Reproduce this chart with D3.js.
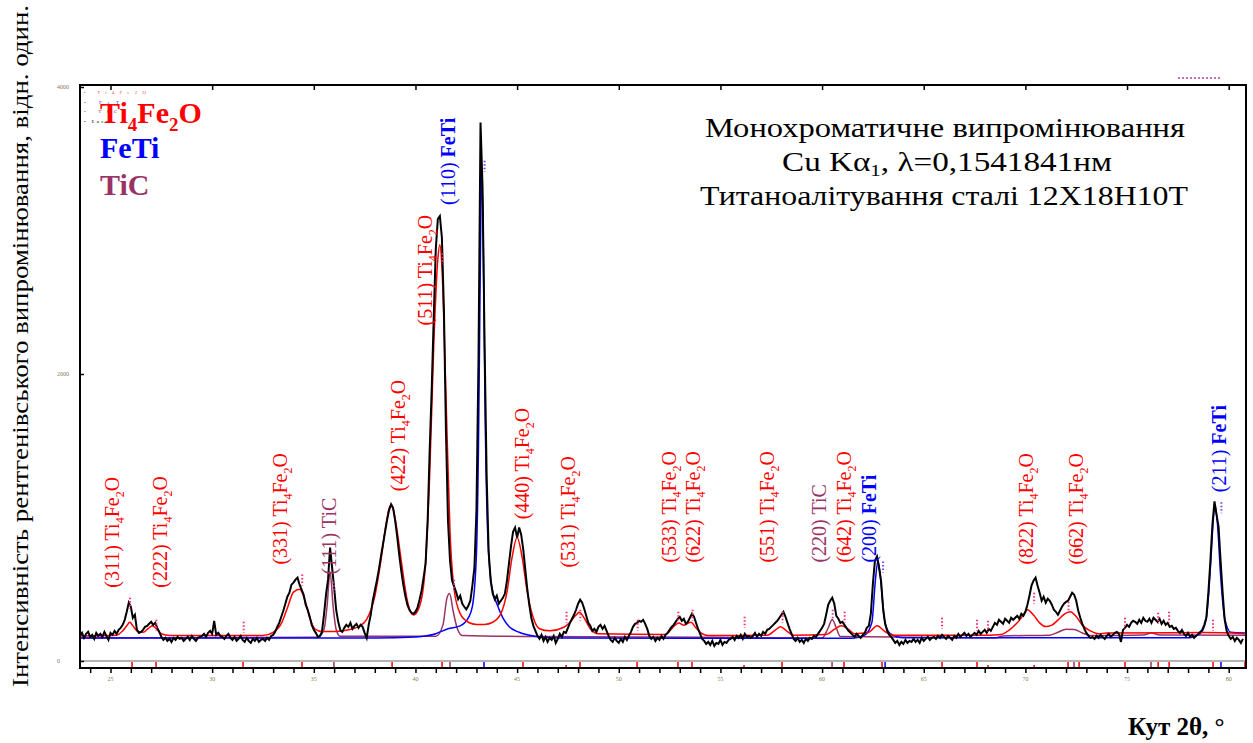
<!DOCTYPE html>
<html>
<head>
<meta charset="utf-8">
<script src="https://cdn.jsdelivr.net/npm/d3@7"></script>
<style>
body { margin: 0; background: #fff; }
svg { display: block; }
text { font-family: "Liberation Serif", "Times New Roman", serif; white-space: pre; }
</style>
</head>
<body>
<script>
// scan parameters of the measured pattern (2theta, deg)
var scanStart = 23.5;
var scanStep = 0.1;

// measured intensity, one value per scan step (23.5 .. 80.7)
var measured = [
    175,196,161,189,203,168,182,154,196,175,
    189,168,203,175,147,196,182,210,189,217,
    231,252,287,343,406,378,301,322,217,196,
    203,217,238,245,259,273,252,266,231,203,
    168,147,161,140,154,133,161,147,168,154,
    161,140,154,168,147,175,154,140,161,168,
    175,189,168,196,210,189,280,182,196,175,
    168,154,175,189,161,147,168,140,154,175,
    147,133,161,140,126,154,140,161,133,147,
    154,140,161,147,175,182,203,238,266,308,
    350,399,448,476,532,546,567,581,532,497,
    462,392,357,308,252,217,196,168,175,203,
    322,462,567,791,651,511,357,273,217,203,
    231,252,238,266,224,245,259,231,252,238,
    196,161,252,322,420,490,560,637,728,812,
    896,980,1050,1092,1064,980,868,742,630,532,
    455,392,357,336,329,343,371,427,490,581,
    680,980,1470,1900,2400,2870,3080,3101,2950,2450,
    1600,980,700,560,520,480,430,455,400,378,
    360,385,420,525,650,1050,2100,3752,3300,2200,
    1300,760,560,470,430,455,400,420,440,470,
    560,680,800,900,930,860,930,880,780,640,
    500,390,300,245,210,175,154,182,140,168,
    133,161,147,175,126,154,189,168,203,196,
    231,266,294,322,357,399,427,406,364,315,
    266,245,210,224,203,238,252,224,245,210,
    175,147,133,161,140,126,154,133,168,147,
    175,203,238,259,266,280,273,287,259,224,
    175,154,168,140,161,147,175,154,182,196,
    217,238,252,273,294,308,280,294,259,273,
    301,329,308,266,224,189,154,140,119,133,
    112,140,105,126,119,147,112,133,126,147,
    154,168,147,175,161,182,154,189,168,175,
    161,175,196,168,189,175,203,189,217,224,
    238,252,266,280,301,322,343,308,266,224,
    189,154,140,161,133,147,126,154,140,161,
    154,175,168,189,210,231,259,322,392,420,
    441,399,315,294,266,273,252,231,210,196,
    182,168,189,175,161,182,196,231,245,330,
    540,700,728,650,560,370,259,210,182,168,
    147,126,140,112,133,119,147,126,140,133,
    154,133,147,126,161,140,154,168,147,161,
    168,154,175,161,182,168,154,175,161,147,
    175,161,189,168,182,196,175,189,168,182,
    196,182,210,189,203,217,196,224,210,238,
    266,252,287,273,259,294,280,266,301,287,
    301,315,294,329,315,343,392,455,525,560,
    581,525,476,420,448,406,434,420,392,357,
    343,322,350,378,399,413,420,448,476,462,
    420,350,301,259,224,196,175,161,168,154,
    175,161,182,168,154,175,189,168,182,196,
    203,189,133,217,231,252,238,266,280,273,
    259,287,266,301,280,273,294,266,301,287,
    273,294,259,280,252,266,238,245,224,231,
    210,196,217,189,175,196,168,182,161,175,
    189,203,217,252,301,476,700,950,1113,1020,
    938,700,480,290,210,175,154,168,140,161,
    147,126,154
];

// calculated phase profiles [2theta, intensity]
var ti4fe2oProfile = [
    [23.5,175],[25.3,180],[25.6,210],[25.8,245],[25.95,270],[26.1,245],[26.35,205],[26.6,200],
    [26.85,225],[27.05,245],[27.25,225],[27.5,190],[27.9,178],[32.5,178],[33.0,200],[33.4,260],
    [33.7,370],[34.0,480],[34.3,500],[34.55,430],[34.8,300],[35.05,225],[35.4,205],[36.0,205],
    [36.6,215],[37.2,240],[37.6,290],[38.0,450],[38.3,700],[38.55,950],[38.75,1080],[38.85,1085],
    [39.05,950],[39.3,700],[39.6,420],[39.9,320],[40.2,380],[40.45,600],[40.7,1300],[40.9,2200],
    [41.1,2800],[41.2,2900],[41.3,2750],[41.5,1850],[41.7,900],[41.9,500],[42.2,330],[42.6,270],
    [43.0,255],[43.4,255],[43.8,270],[44.2,330],[44.5,480],[44.75,720],[45.0,860],[45.25,720],
    [45.5,480],[45.8,300],[46.1,225],[46.6,210],[47.3,235],[47.6,270],[47.9,320],[48.05,340],
    [48.3,300],[48.6,225],[49.0,190],[52.3,185],[52.7,240],[52.95,265],[53.2,250],[53.55,270],
    [53.8,230],[54.1,190],[54.4,178],[57.3,180],[57.7,215],[57.95,238],[58.25,210],[58.6,180],
    [60.2,185],[60.6,220],[60.95,245],[61.3,220],[61.6,190],[62.3,200],[62.7,245],[63.1,205],
    [63.5,180],[68.2,180],[68.8,185],[69.2,215],[69.6,266],[69.9,320],[70.1,357],[70.4,320],
    [70.7,266],[71.0,240],[71.3,250],[71.6,285],[71.9,325],[72.2,343],[72.5,310],[72.8,250],
    [73.2,210],[73.6,190],[74.0,195],[78.8,198],[80.9,190]
];
var fetiProfile = [
    [23.5,160],[38.0,160],[40.0,168],[41.0,190],[41.6,225],[42.2,245],[42.6,300],[42.8,380],
    [43.0,750],[43.1,1500],[43.2,2900],[43.25,3400],[43.33,3000],[43.42,1800],[43.55,900],
    [43.75,520],[44.0,400],[44.3,300],[44.6,240],[45.1,200],[46.0,170],[47.0,160],[61.5,158],
    [62.1,180],[62.45,270],[62.62,560],[62.75,700],[62.9,540],[63.05,300],[63.35,190],[64.0,162],
    [78.0,162],[78.6,190],[78.9,300],[79.1,650],[79.25,1000],[79.32,1090],[79.45,950],[79.6,600],
    [79.8,300],[80.1,200],[80.9,195]
];
var ticProfile = [
    [23.5,160],[35.2,165],[35.5,220],[35.65,380],[35.8,620],[35.95,380],[36.1,220],[36.3,172],
    [41.0,172],[41.35,250],[41.55,440],[41.68,470],[41.85,350],[42.05,230],[42.3,178],[46.0,170],
    [54.6,165],[60.0,160],[60.3,230],[60.5,290],[60.7,230],[60.9,170],[68.5,160],[68.9,175],
    [71.2,180],[71.6,200],[72.0,222],[72.4,220],[72.8,195],[73.2,178],[75.8,182],[76.2,195],
    [76.6,182],[80.9,180]
];

// reflection positions (2theta) for the bar strip
var ti4fe2oRefl = [26.06,27.24,31.52,34.42,38.85,41.31,45.29,48.09,50.90,52.91,53.60,58.03,
    61.08,62.95,65.90,67.62,72.10,72.64,74.90,76.53,77.07,79.23,80.80];
var ti4fe2oWeakRefl = [47.41,56.16,68.16,70.43];
var fetiRefl = [43.37,63.10,79.62];
var ticRefl = [35.99,41.70,60.49,72.39,76.18];

// calculated peak markers [2theta, intensity, phase]
var calcMarks = [
    [25.96,441,'Ti4Fe2O'],[27.26,287,'Ti4Fe2O'],[31.55,273,'Ti4Fe2O'],[34.43,602,'Ti4Fe2O'],
    [35.99,553,'TiC'],[41.33,2842,'Ti4Fe2O'],[41.90,567,'TiC'],[43.40,3486,'FeTi'],
    [47.43,343,'Ti4Fe2O'],[48.11,357,'Ti4Fe2O'],[50.93,287,'Ti4Fe2O'],[52.93,343,'Ti4Fe2O'],
    [53.63,357,'Ti4Fe2O'],[56.19,308,'Ti4Fe2O'],[58.06,343,'Ti4Fe2O'],[60.52,357,'TiC'],
    [61.11,343,'Ti4Fe2O'],[63.00,693,'FeTi'],[65.90,301,'Ti4Fe2O'],[67.62,287,'Ti4Fe2O'],
    [68.16,280,'Ti4Fe2O'],[70.43,476,'Ti4Fe2O'],[72.12,413,'Ti4Fe2O'],[74.90,301,'Ti4Fe2O'],
    [76.53,336,'Ti4Fe2O'],[77.07,343,'Ti4Fe2O'],[79.23,287,'Ti4Fe2O'],[79.64,1106,'FeTi']
];

// peak annotations: hkl, phase, label foot position (2theta, intensity)
var peakHkl = ['(311)','(222)','(331)','(111)','(422)','(511)','(110)','(440)','(531)',
    '(533)','(622)','(551)','(220)','(642)','(200)','(822)','(662)','(211)'];
var peakPhase = ['Ti4Fe2O','Ti4Fe2O','Ti4Fe2O','TiC','Ti4Fe2O','Ti4Fe2O','FeTi','Ti4Fe2O','Ti4Fe2O',
    'Ti4Fe2O','Ti4Fe2O','Ti4Fe2O','TiC','Ti4Fe2O','FeTi','Ti4Fe2O','Ti4Fe2O','FeTi'];
var peakLabelAngle = [25.42,27.78,33.68,36.09,39.49,40.81,41.95,45.59,47.85,
    52.82,54.00,57.64,60.19,61.42,62.65,70.38,72.84,79.87];
var peakLabelAt = [511,511,672,602,1183,2338,3178,987,651,
    686,686,686,686,686,686,672,672,1176];

var xTickValues = [25,30,35,40,45,50,55,60,65,70,75,80];
var yTickValues = [0,2000,4000];

var titleLines = ['Монохроматичне випромінювання', 'Cu Kα', 'Титаноалітування сталі 12Х18Н10Т'];
var yTitle = 'Інтенсивність рентгенівського випромінювання, відн. один.';
var xTitle = 'Кут 2θ, °';

var phaseColor = { 'Ti4Fe2O': '#ff0000', 'FeTi': '#0000ff', 'TiC': '#993366' };
var markColor = { 'Ti4Fe2O': '#ff2a6a', 'FeTi': '#7a3cff', 'TiC': '#c03c9a' };
var formula = {
    'Ti4Fe2O': [['Ti',0],['4',1],['Fe',0],['2',1],['O',0]],
    'FeTi': [['FeTi',0]],
    'TiC': [['TiC',0]]
};

var x = d3.scaleLinear().domain([23.5, 80.9]).range([80, 1247]);
var y = d3.scaleLinear().domain([0, 4000]).range([661, 87]);

var svg = d3.select('body').append('svg')
    .attr('width', 1253)
    .attr('height', 743);

svg.append('clipPath')
    .attr('id', 'plotclip')
    .append('rect')
    .attr('x', 81).attr('y', 86)
    .attr('width', 1164).attr('height', 574);

// formula text with subscripts
function addFormula(text, phase, size, bold){
    var sub = Math.round(size * 0.62);
    var shift = Math.round(size * 0.25);
    var down = false;
    formula[phase].forEach(function(part){
        var t = text.append('tspan').text(part[0]);
        if(bold) t.attr('font-weight', 'bold');
        if(part[1]){
            t.attr('font-size', sub).attr('dy', shift);
            down = true;
        } else {
            t.attr('font-size', size);
            if(down){ t.attr('dy', -shift); down = false; }
        }
    });
}

// reflection strip
svg.append('line')
    .attr('x1', 81).attr('x2', 1246)
    .attr('y1', y(0)).attr('y2', y(0))
    .attr('stroke', '#9a9a9a')
    .attr('stroke-width', 1.5);

function drawRefl(list, color, top){
    svg.append('g')
        .selectAll('line')
        .data(list)
        .enter()
        .append('line')
        .attr('x1', function(d){ return x(d); })
        .attr('x2', function(d){ return x(d); })
        .attr('y1', top)
        .attr('y2', 668)
        .attr('stroke', color)
        .attr('stroke-width', 1.5);
}
drawRefl(ti4fe2oRefl, phaseColor['Ti4Fe2O'], y(0) + 1);
drawRefl(ti4fe2oWeakRefl, phaseColor['Ti4Fe2O'], y(0) + 4);
drawRefl(ticRefl, phaseColor['TiC'], y(0) + 1);
drawRefl(fetiRefl, phaseColor['FeTi'], y(0) + 1);

var plot = svg.append('g').attr('clip-path', 'url(#plotclip)');

var smooth = d3.line()
    .x(function(d){ return x(d[0]); })
    .y(function(d){ return y(d[1]); })
    .curve(d3.curveMonotoneX);

plot.append('path').datum(ticProfile)
    .attr('d', smooth).attr('fill', 'none')
    .attr('stroke', phaseColor['TiC']).attr('stroke-width', 1.5);
plot.append('path').datum(fetiProfile)
    .attr('d', smooth).attr('fill', 'none')
    .attr('stroke', phaseColor['FeTi']).attr('stroke-width', 1.5);
plot.append('path').datum(ti4fe2oProfile)
    .attr('d', smooth).attr('fill', 'none')
    .attr('stroke', phaseColor['Ti4Fe2O']).attr('stroke-width', 1.5);

var observed = measured.map(function(v, i){
    return [scanStart + i * scanStep, v];
});
plot.append('path').datum(observed)
    .attr('d', d3.line()
        .x(function(d){ return x(d[0]); })
        .y(function(d){ return y(d[1]); }))
    .attr('fill', 'none')
    .attr('stroke', '#000')
    .attr('stroke-width', 2)
    .attr('stroke-linejoin', 'miter');

// calculated peak markers
plot.selectAll('line.mark')
    .data(calcMarks)
    .enter()
    .append('line')
    .attr('class', 'mark')
    .attr('x1', function(d){ return x(d[0]); })
    .attr('x2', function(d){ return x(d[0]); })
    .attr('y1', function(d){ return y(d[1]); })
    .attr('y2', function(d){ return y(d[1]) + 11; })
    .attr('stroke', function(d){ return markColor[d[2]]; })
    .attr('stroke-width', 2)
    .attr('stroke-dasharray', '1.5,2');

// peak annotations
peakHkl.forEach(function(hkl, i){
    var phase = peakPhase[i];
    var t = svg.append('text')
        .attr('transform', 'translate(' + x(peakLabelAngle[i]) + ',' + y(peakLabelAt[i]) + ') rotate(-90)')
        .attr('fill', phaseColor[phase])
        .attr('font-size', 20);
    t.append('tspan').text(hkl + ' ');
    addFormula(t, phase, 20, phase == 'FeTi');
});

// frame
svg.append('rect')
    .attr('x', 80).attr('y', 85)
    .attr('width', 1166).attr('height', 583)
    .attr('fill', 'none')
    .attr('stroke', '#000')
    .attr('stroke-width', 2);

// axes
var minorAxis = svg.append('g')
    .attr('transform', 'translate(0,669)')
    .call(d3.axisBottom(x).tickValues(d3.range(24, 81)).tickSize(4).tickFormat(''));
minorAxis.select('.domain').remove();
minorAxis.selectAll('line').attr('stroke-width', 1.5);

var topAxis = svg.append('g')
    .attr('transform', 'translate(0,85)')
    .call(d3.axisBottom(x).tickValues(xTickValues).tickSize(5).tickFormat(''));
topAxis.select('.domain').remove();
topAxis.selectAll('line').attr('stroke-width', 1.5);

var leftAxis = svg.append('g')
    .attr('transform', 'translate(80,0)')
    .call(d3.axisRight(y).tickValues(yTickValues).tickSize(4).tickFormat(''));
leftAxis.select('.domain').remove();
leftAxis.selectAll('line').attr('stroke-width', 1.5);

svg.append('g')
    .selectAll('text')
    .data(xTickValues)
    .enter()
    .append('text')
    .attr('x', function(d){ return x(d); })
    .attr('y', 681)
    .attr('text-anchor', 'middle')
    .attr('font-family', 'DejaVu Sans')
    .attr('font-size', 6)
    .attr('fill', '#8a7a52')
    .text(function(d){ return d; });

svg.append('g')
    .selectAll('text')
    .data(yTickValues)
    .enter()
    .append('text')
    .attr('x', 57)
    .attr('y', function(d){ return y(d) + 2; })
    .attr('font-family', 'DejaVu Sans')
    .attr('font-size', 6)
    .attr('fill', '#8a7a52')
    .text(function(d){ return d; });

// small legend block, top left (sits under the big legend, as in the original)
var miniLegend = ['Ti4Fe2O', 'FeTi', 'TiC', 'Експ.'];
var miniColor = ['#ff4a4a', '#2a2aff', '#8a3060', '#222'];
var miniWidth = [62, 42, 33, 28];
miniLegend.forEach(function(s, i){
    svg.append('text')
        .attr('x', 84).attr('y', 94 + i * 9.5)
        .attr('font-family', 'DejaVu Sans')
        .attr('font-size', 5)
        .attr('fill', miniColor[i])
        .attr('textLength', miniWidth[i])
        .attr('lengthAdjust', 'spacing')
        .text('• ' + s);
});

// dotted mark, top right
svg.append('line')
    .attr('x1', 1178).attr('x2', 1222)
    .attr('y1', 78).attr('y2', 78)
    .attr('stroke', '#c070c8')
    .attr('stroke-width', 2)
    .attr('stroke-dasharray', '2,2');

// big legend
['Ti4Fe2O', 'FeTi', 'TiC'].forEach(function(phase, i){
    var t = svg.append('text')
        .attr('x', 100)
        .attr('y', [123, 158, 195][i])
        .attr('fill', phaseColor[phase])
        .attr('font-weight', 'bold')
        .attr('font-size', 30);
    addFormula(t, phase, 30, true);
});

// title block
svg.append('text')
    .attr('x', 945).attr('y', 137)
    .attr('text-anchor', 'middle')
    .attr('font-size', 27)
    .attr('textLength', 480)
    .attr('lengthAdjust', 'spacingAndGlyphs')
    .text(titleLines[0]);
var line2 = svg.append('text')
    .attr('x', 947).attr('y', 171)
    .attr('text-anchor', 'middle')
    .attr('font-size', 27)
    .attr('textLength', 330)
    .attr('lengthAdjust', 'spacingAndGlyphs');
line2.append('tspan').text(titleLines[1]);
line2.append('tspan').attr('font-size', 17).attr('dy', 5).text('1');
line2.append('tspan').attr('dy', -5).text(', λ=0,1541841нм');
svg.append('text')
    .attr('x', 944).attr('y', 205)
    .attr('text-anchor', 'middle')
    .attr('font-size', 27)
    .attr('textLength', 488)
    .attr('lengthAdjust', 'spacingAndGlyphs')
    .text(titleLines[2]);

// axis titles
svg.append('text')
    .attr('transform', 'translate(28,346) rotate(-90)')
    .attr('text-anchor', 'middle')
    .attr('font-size', 24)
    .attr('textLength', 682)
    .attr('lengthAdjust', 'spacingAndGlyphs')
    .text(yTitle);

svg.append('text')
    .attr('x', 1128).attr('y', 735)
    .attr('font-size', 25)
    .attr('font-weight', 'bold')
    .text(xTitle);
</script>
</body>
</html>
